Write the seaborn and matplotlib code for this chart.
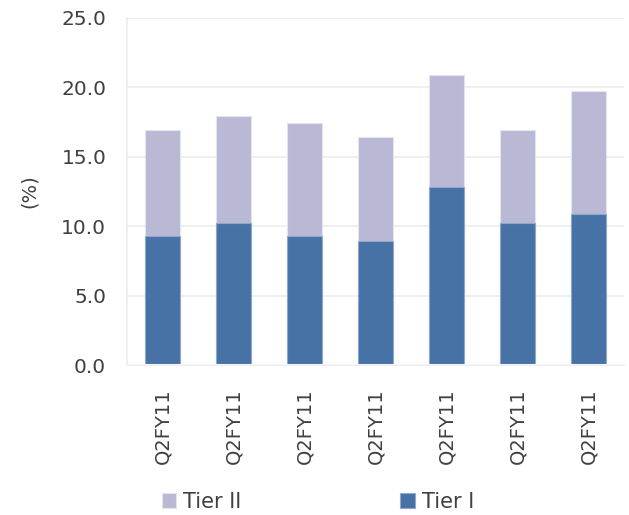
import numpy as np
import pandas as pd
import matplotlib
matplotlib.use('Agg')
import matplotlib.pyplot as plt
import seaborn as sns

# values (%)
periods = ['Q2FY11'] * 7
tier1 = [9.3, 10.2, 9.3, 8.9, 12.8, 10.2, 10.9]
tier2 = [7.6, 7.7, 8.1, 7.5, 8.1, 6.7, 8.8]

c_t1 = '#4672a6'
c_t2 = '#b9b9d6'
txt = '#404040'
grid = '#ececec'

sns.set_theme(style='white')
plt.rcParams['font.family'] = ['DejaVu Sans']

df = pd.DataFrame({'pos': list(range(len(periods))), 'period': periods,
                   'tier1': tier1, 'tier2': tier2})
df['total'] = df['tier1'] + df['tier2']

fig = plt.figure(figsize=(6.29, 5.15), dpi=100)
ax = fig.add_axes([0.202, 0.291, 0.79, 0.675])

sns.barplot(data=df, x='pos', y='total', color=c_t2, width=0.5, saturation=1,
            edgecolor='#e4e4f0', linewidth=0.8, ax=ax, zorder=2, label='Tier II')
sns.barplot(data=df, x='pos', y='tier1', color=c_t1, width=0.5, saturation=1,
            edgecolor='#8fa8c8', linewidth=0.8, ax=ax, zorder=3, label='Tier I')
h, l = ax.get_legend_handles_labels()
if ax.get_legend() is not None:
    ax.get_legend().remove()

ax.set_ylim(0, 25)
ax.set_xlim(-0.5, len(periods) - 0.5)
ax.set_yticks(np.arange(0, 25.1, 5))
ax.set_yticklabels([f'{v:.1f}' for v in np.arange(0, 25.1, 5)])
ax.set_xticks(range(len(periods)))
ax.set_xticklabels(periods, rotation=90)
ax.set_xticks(np.arange(-0.5, len(periods)), minor=True)
ax.tick_params(axis='x', which='major', length=0, pad=17, labelsize=14, labelcolor=txt)
ax.tick_params(axis='x', which='minor', length=6, width=1.2, color=grid)
ax.tick_params(axis='y', length=7, width=1.2, color=grid, pad=8, labelsize=14.5, labelcolor=txt)

ax.yaxis.grid(True, color=grid, linewidth=1.2, zorder=0)
ax.set_axisbelow(True)
ax.axhline(0, color='#f4f4f4', linewidth=1.5, zorder=4)
for s in ['top', 'right']:
    ax.spines[s].set_visible(False)
ax.spines['bottom'].set_color(grid)
ax.spines['left'].set_color(grid)
ax.spines['bottom'].set_linewidth(1.2)
ax.spines['left'].set_linewidth(1.2)

ax.set_xlabel('')
ax.set_ylabel('(%)', fontsize=14, color=txt, labelpad=16)

fig.legend(h, l, loc='lower left', bbox_to_anchor=(0.227, -0.03), ncol=2, frameon=False,
           fontsize=15, labelcolor=txt, handlelength=0.7, handleheight=0.7,
           handletextpad=0.35, columnspacing=7.6)

fig.savefig('out.png', dpi=100)
